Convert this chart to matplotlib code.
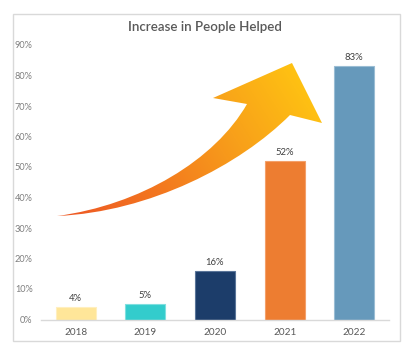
import numpy as np
import matplotlib
matplotlib.use("Agg")
import matplotlib.pyplot as plt
from matplotlib.path import Path
from matplotlib.patches import PathPatch, Rectangle
from matplotlib.colors import LinearSegmentedColormap

years = ["2018", "2019", "2020", "2021", "2022"]
values = [0.04, 0.05, 0.16, 0.52, 0.83]
labels = ["4%", "5%", "16%", "52%", "83%"]
colors = ["#FFE699", "#33CCCC", "#1C3D6A", "#ED7D31", "#6699BB"]
edges = ["#FFEFBF", "#7FDFDF", "#5A7599", "#F3A06A", "#9ABDD4"]
yticks = [0, 0.1, 0.2, 0.3, 0.4, 0.5, 0.6, 0.7, 0.8, 0.9]
title = "Increase in People Helped"

W, H = 412, 356
plt.rcParams['font.family'] = ['Lato', 'DejaVu Sans']
fig = plt.figure(figsize=(W / 100, H / 100), dpi=100)
fig.patch.set_facecolor("white")

# frame
frame_ax = fig.add_axes([0, 0, 1, 1], zorder=0)
frame_ax.set_xlim(0, W)
frame_ax.set_ylim(H, 0)
frame_ax.axis("off")
frame_ax.add_patch(Rectangle((13, 14), 387, 327, fill=False, edgecolor="#D9D9D9", lw=1.0))

ax = fig.add_axes([41 / W, (H - 319.5) / H, 348 / W, 274.5 / H], zorder=1)
ax.set_facecolor("none")
x = np.arange(len(years))
ax.bar(x, values, width=0.575, color=colors, edgecolor=edges, linewidth=0.8)
for xi, v, lab in zip(x, values, labels):
    ax.annotate(lab, (xi, v), xytext=(0, 3), textcoords="offset points",
                ha="center", va="bottom", fontsize=6.8, color="#404040")
ax.set_xlim(-0.5, len(years) - 0.5)
ax.set_ylim(0, 0.9)
ax.set_yticks(yticks)
ax.set_yticklabels([f"{int(round(t * 100))}%" for t in yticks], fontsize=6.6, color="#7F7F7F")
ax.set_xticks(x)
ax.set_xticklabels(years, fontsize=7.2, color="#595959")
ax.tick_params(axis="both", length=0)
ax.tick_params(axis="y", pad=6)
ax.tick_params(axis="x", pad=6)
for s in ["top", "right", "left"]:
    ax.spines[s].set_visible(False)
ax.spines["bottom"].set_color("#D9D9D9")
ax.spines["bottom"].set_linewidth(1.0)

fig.text(205 / W, 1 - 27 / H, title, ha="center", va="center", fontsize=9.6,
         color="#595959", fontweight="semibold")

# decorative curved arrow with gradient
over = fig.add_axes([0, 0, 1, 1], zorder=2)
over.set_xlim(0, W)
over.set_ylim(H, 0)
over.axis("off")
over.patch.set_alpha(0)

verts = [
    (57, 216),
    (140, 205), (215, 160), (247, 104),   # upper edge
    (213, 98),                              # left barb
    (292, 63),                              # tip
    (322, 123),                             # right barb
    (290, 115),                             # neck right
    (240, 165), (150, 212), (57, 216),     # lower edge back to tail
    (57, 216),
]
codes = [Path.MOVETO,
         Path.CURVE4, Path.CURVE4, Path.CURVE4,
         Path.LINETO, Path.LINETO, Path.LINETO, Path.LINETO,
         Path.CURVE4, Path.CURVE4, Path.CURVE4,
         Path.CLOSEPOLY]
path = Path(verts, codes)
patch = PathPatch(path, facecolor="none", edgecolor="none")
over.add_patch(patch)

gx, gy = np.meshgrid(np.linspace(0, W, 412), np.linspace(0, H, 356))
p0 = np.array([70, 215]); p1 = np.array([300, 70])
d = p1 - p0
t = ((gx - p0[0]) * d[0] + (gy - p0[1]) * d[1]) / (d @ d)
t = np.clip(t, 0, 1)
cmap = LinearSegmentedColormap.from_list("arr", ["#EE5A24", "#F3781F", "#F8A01A", "#FFC312"])
im = over.imshow(t, cmap=cmap, extent=(0, W, H, 0), origin="upper", vmin=0, vmax=1,
                 interpolation="bilinear", aspect="auto")
im.set_clip_path(patch)
over.set_xlim(0, W)
over.set_ylim(H, 0)

fig.savefig("out.png", dpi=100, facecolor="white")
